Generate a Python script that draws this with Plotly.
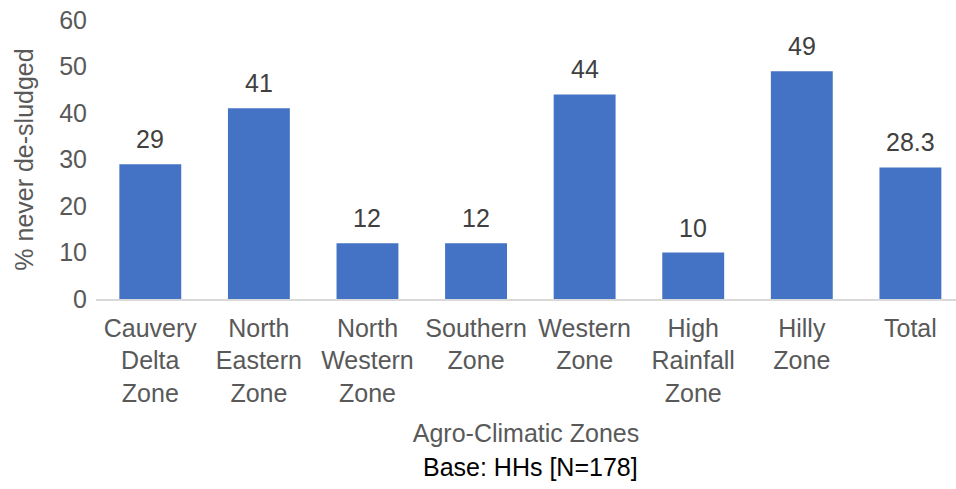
import plotly.graph_objects as go

categories = ["Cauvery<br>Delta<br>Zone", "North<br>Eastern<br>Zone", "North<br>Western<br>Zone",
              "Southern<br>Zone", "Western<br>Zone", "High<br>Rainfall<br>Zone", "Hilly<br>Zone", "Total"]
values = [29, 41, 12, 12, 44, 10, 49, 28.3]
labels = ["29", "41", "12", "12", "44", "10", "49", "28.3"]
yticks = [0, 10, 20, 30, 40, 50, 60]

FONT = "Liberation Sans, Arial"
x = list(range(len(categories)))
fig = go.Figure()
fig.add_trace(go.Bar(
    x=x, y=values, width=0.57, marker=dict(color="#4472C4", line=dict(width=0)),
))
annotations = [dict(x=xi, y=v, text=t, xref="x", yref="y", showarrow=False,
                    yanchor="middle", xanchor="center", yshift=25,
                    font=dict(family=FONT, size=25, color="#404040"))
               for xi, v, t in zip(x, values, labels)]
annotations.append(dict(text="Base: HHs [N=178]", xref="paper", yref="paper", x=0.505, y=-0.602,
                        xanchor="center", yanchor="middle", showarrow=False,
                        font=dict(family=FONT, size=25, color="#000000")))
fig.update_layout(
    width=956, height=489, margin=dict(l=96, r=0, t=20, b=190),
    paper_bgcolor="white", plot_bgcolor="white", showlegend=False,
    font=dict(family=FONT, size=25, color="#595959"),
    xaxis=dict(range=[-0.5, 7.42], tickmode="array", tickvals=x, ticktext=categories,
               showgrid=False, showline=True, linecolor="#D9D9D9", linewidth=1.5,
               ticks="", ticklabelstandoff=6, tickfont=dict(size=25, color="#595959"),
               title=dict(text="Agro-Climatic Zones", font=dict(size=25, color="#595959"), standoff=19)),
    yaxis=dict(range=[0, 60], tickmode="array", tickvals=yticks, showgrid=False, zeroline=False,
               showline=False, ticks="", ticklabelstandoff=8, tickfont=dict(size=25, color="#595959"),
               title=dict(text="% never de-sludged", font=dict(size=25, color="#595959"), standoff=18)),
    annotations=annotations,
)
fig.write_html("out.html")
